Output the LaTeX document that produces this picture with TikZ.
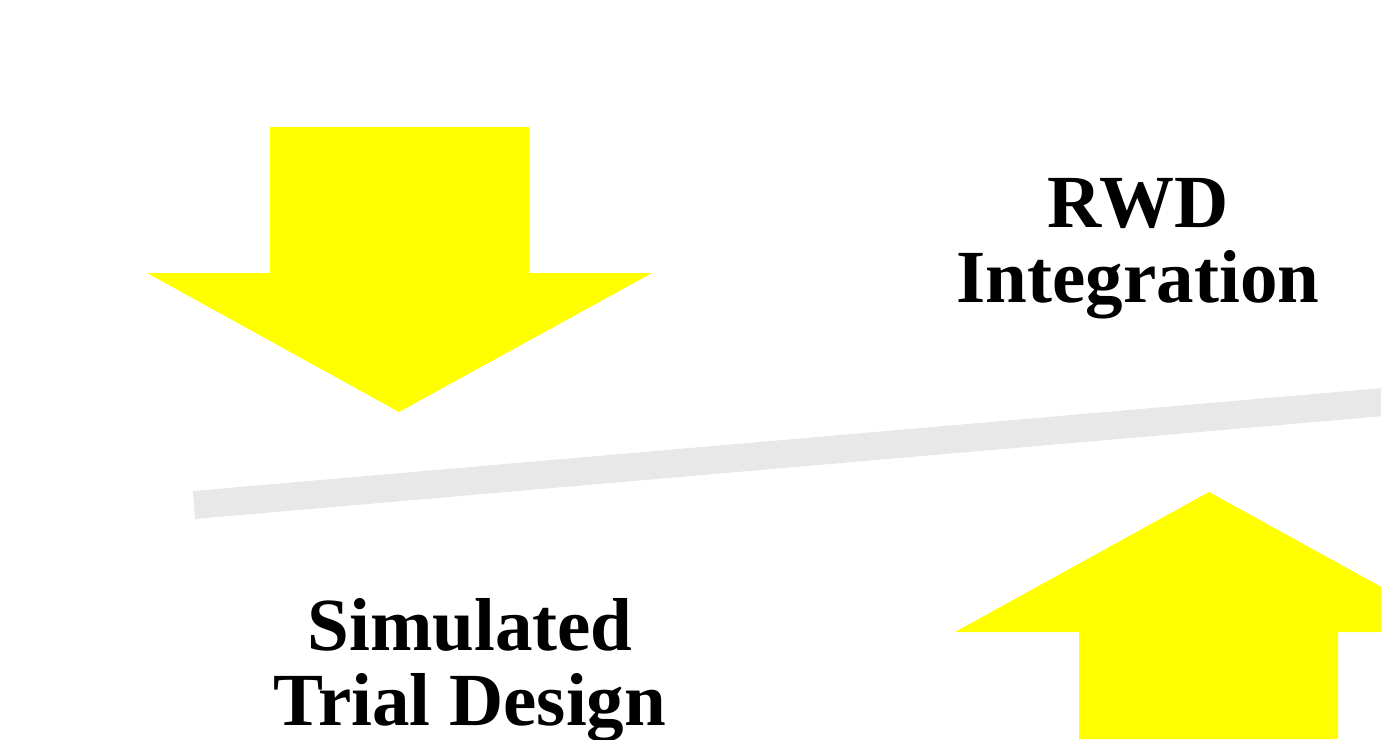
\documentclass[tikz,border=0pt]{standalone}
\usepackage{fontspec}
\setmainfont{Liberation Serif}
\definecolor{arrowyellow}{HTML}{FFFF00}
\definecolor{dividergray}{HTML}{E8E8E8}
\tikzset{
  blockarrow/.style={fill=arrowyellow, draw=none},
  divider/.style={draw=dividergray, line width=28pt},
  label/.style={font=\bfseries\fontsize{75}{75}\selectfont, align=center, anchor=base, inner sep=0pt, text=black}
}
\begin{document}
\begin{tikzpicture}[x=1pt, y=-1pt]
  \useasboundingbox (0,0) rectangle (1381,739);
  % downward block arrow (upper left)
  \fill[blockarrow] (270,127) -- (529,127) -- (529,273) -- (652,273) -- (399,412)
        -- (147,273) -- (270,273) -- cycle;
  % upward block arrow (lower right), running off the page
  \fill[blockarrow] (1079,739) -- (1079,632) -- (955,632) -- (1209,492) -- (1463,632)
        -- (1338,632) -- (1338,739) -- cycle;
  % slanted divider bar
  \coordinate (divL) at (194,505);
  \coordinate (divR) at (1395,401);
  \draw[divider] (divL) -- (divR);
  % captions (anchored at the baseline of their last line)
  \node[label] (rwd) at (1138,302) {RWD\\Integration};
  \node[label] (sim) at (470,725) {Simulated\\Trial Design};
\end{tikzpicture}
\end{document}
